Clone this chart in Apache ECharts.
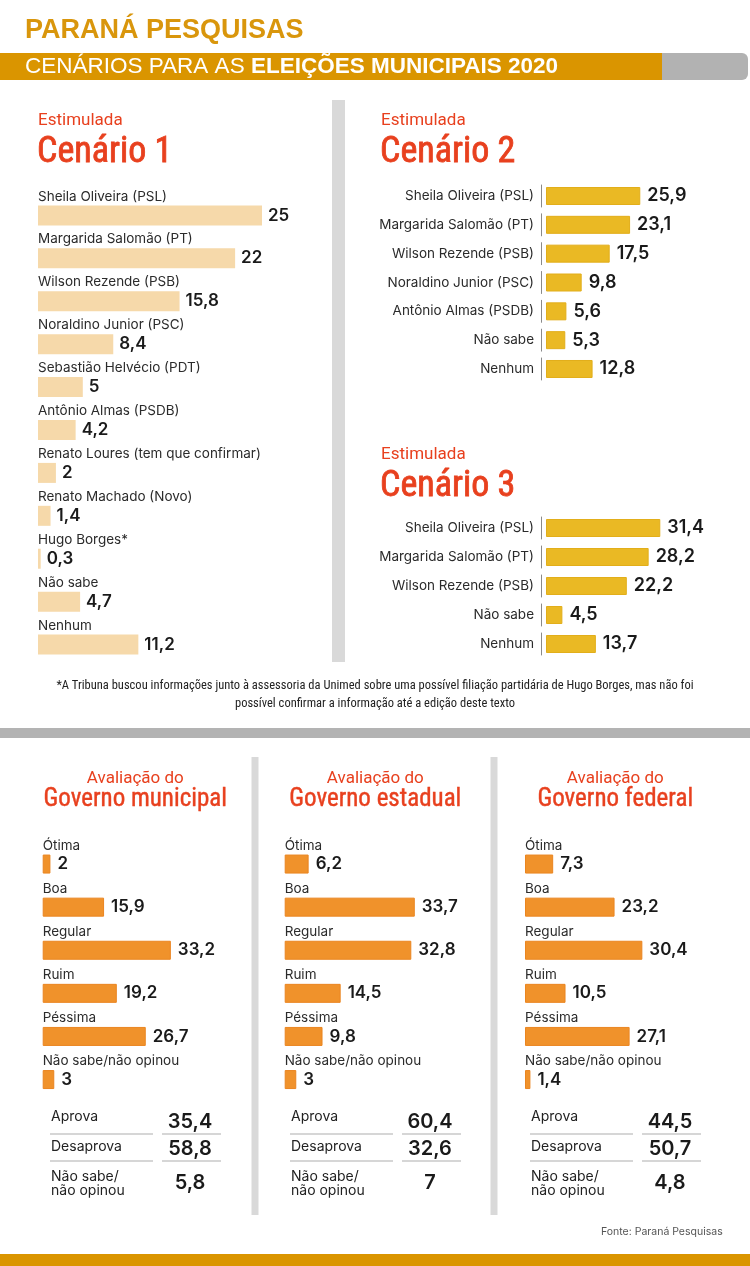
<!DOCTYPE html>
<html><head><meta charset="utf-8">
<script src="https://cdn.jsdelivr.net/npm/echarts@6/dist/echarts.min.js"></script>
<style>html,body{margin:0;padding:0;background:#fff}#c{width:750px;height:1266px}</style>
</head><body><div id="c"></div>
<script>
// ---------- DATA ----------
const c1Names = ['Sheila Oliveira (PSL)','Margarida Salomão (PT)','Wilson Rezende (PSB)','Noraldino Junior (PSC)','Sebastião Helvécio (PDT)','Antônio Almas (PSDB)','Renato Loures (tem que confirmar)','Renato Machado (Novo)','Hugo Borges*','Não sabe','Nenhum'];
const c1Values = [25, 22, 15.8, 8.4, 5, 4.2, 2, 1.4, 0.3, 4.7, 11.2];
const c2Names = ['Sheila Oliveira (PSL)','Margarida Salomão (PT)','Wilson Rezende (PSB)','Noraldino Junior (PSC)','Antônio Almas (PSDB)','Não sabe','Nenhum'];
const c2Values = [25.9, 23.1, 17.5, 9.8, 5.6, 5.3, 12.8];
const c3Names = ['Sheila Oliveira (PSL)','Margarida Salomão (PT)','Wilson Rezende (PSB)','Não sabe','Nenhum'];
const c3Values = [31.4, 28.2, 22.2, 4.5, 13.7];
const evalCategories = ['Ótima','Boa','Regular','Ruim','Péssima','Não sabe/não opinou'];
const evalMunicipal = [2, 15.9, 33.2, 19.2, 26.7, 3];
const evalEstadual = [6.2, 33.7, 32.8, 14.5, 9.8, 3];
const evalFederal = [7.3, 23.2, 30.4, 10.5, 27.1, 1.4];
const panelTitles = ['Governo municipal','Governo estadual','Governo federal'];
const approvalLabels = ['Aprova','Desaprova','Não sabe/\nnão opinou'];
const approvalMunicipal = [35.4, 58.8, 5.8];
const approvalEstadual = [60.4, 32.6, 7];
const approvalFederal = [44.5, 50.7, 4.8];
const footnoteLines = ['*A Tribuna buscou informações junto à assessoria da Unimed sobre uma possível filiação partidária de Hugo Borges, mas não foi','possível confirmar a informação até a edição deste texto'];

// ---------- STYLE ----------
const COND = '"Liberation Sans Narrow","Roboto Condensed","DejaVu Sans Condensed",Roboto,sans-serif';
const HEAD = '"Liberation Sans",Arial,sans-serif';
const LAB = 'Inter,"Noto Sans",sans-serif';
const RED = '#E8401E';
const fmt = v => String(v).replace('.', ',');

const grids = [], xAxes = [], yAxes = [], series = [];
function addChart(o) {
  const i = grids.length;
  grids.push({left: o.left, top: o.top, width: o.width, height: o.height});
  xAxes.push({gridIndex: i, type: 'value', min: 0, max: o.max, show: false});
  yAxes.push({gridIndex: i, type: 'category', data: o.names, inverse: true, offset: o.sep ? 5 : 0,
    axisLine: {show: !!o.sep, onZero: false, lineStyle: {color: '#8a8a8a', width: 1, type: o.sep || 'solid', dashOffset: o.sepOffset || 0}},
    axisTick: {show: false}, splitLine: {show: false},
    axisLabel: {show: !o.above, color: '#2b2b2b', fontSize: 13.5, fontFamily: LAB, margin: 7}});
  series.push({type: 'bar', xAxisIndex: i, yAxisIndex: i, data: o.values, barWidth: o.barWidth, barGap: '-100%', silent: true,
    itemStyle: {color: o.color, borderColor: o.border || o.color, borderWidth: o.border ? 1 : 0},
    label: {show: true, position: 'right', distance: o.dist, formatter: p => fmt(p.value), color: '#1a1a1a', fontFamily: LAB, fontSize: o.vsize, fontWeight: 600}});
  if (o.above) series.push({type: 'bar', xAxisIndex: i, yAxisIndex: i, data: o.values, barWidth: o.barWidth, barGap: '-100%', silent: true,
    itemStyle: {color: 'rgba(0,0,0,0)'},
    label: {show: true, position: [0, -9], align: 'left', verticalAlign: 'middle', formatter: '{b}', color: '#2b2b2b', fontFamily: LAB, fontSize: 13.5}});
}

addChart({names: c1Names, values: c1Values, left: 38, top: 194, width: 268.8, height: 472, max: 30, barWidth: 20, color: '#F6D9AA', above: true, dist: 6, vsize: 17});
addChart({names: c2Names, values: c2Values, left: 546, top: 181.6, width: 145.6, height: 201.8, max: 40, barWidth: 18, color: '#EAB924', border: '#E2AE1A', sep: [22, 6.83], sepOffset: 25.43, dist: 7, vsize: 18});
addChart({names: c3Names, values: c3Values, left: 546, top: 513.5, width: 145.6, height: 145, max: 40, barWidth: 18, color: '#EAB924', border: '#E2AE1A', sep: [22, 7], sepOffset: 25.5, dist: 7, vsize: 18});
const evalSets = [evalMunicipal, evalEstadual, evalFederal];
const panelLefts = [42.7, 284.7, 525];
evalSets.forEach((vals, k) => addChart({names: evalCategories, values: vals, left: panelLefts[k], top: 842.5, width: 154.4, height: 258.6, max: 40, barWidth: 19, color: '#F0922B', border: '#EA8520', above: true, dist: 7, vsize: 17}));

// ---------- GRAPHIC ----------
const G = [];
function txt(x, y, text, size, color, family, weight, align, extra) {
  G.push({type: 'text', x: x, y: y, silent: true, style: Object.assign({text: text, fill: color, fontSize: size, fontFamily: family, fontWeight: weight || 'normal', align: align || 'left', verticalAlign: 'middle'}, extra || {})});
}
function rect(x, y, w, h, fill, r) {
  G.push({type: 'rect', silent: true, shape: {x: x, y: y, width: w, height: h, r: r || 0}, style: {fill: fill}});
}
function line(x1, y1, x2, y2, color, w) {
  G.push({type: 'line', silent: true, shape: {x1: x1, y1: y1, x2: x2, y2: y2}, style: {stroke: color, lineWidth: w}});
}

// header
txt(25, 31, 'PARANÁ PESQUISAS', 27, '#D9960C', HEAD, 'bold');
rect(0, 53, 662, 27, '#DA9500');
rect(662, 53, 86, 27, '#B2B2B2', [0, 6, 6, 0]);
G.push({type: 'text', x: 25, y: 67, silent: true, style: {text: '{a|CENÁRIOS PARA AS }{b|ELEIÇÕES MUNICIPAIS 2020}', verticalAlign: 'middle',
  rich: {a: {fill: '#fff', fontSize: 22.5, fontFamily: HEAD}, b: {fill: '#fff', fontSize: 22.5, fontFamily: HEAD, fontWeight: 'bold'}}}});

// dividers
rect(332, 100, 13, 562, '#D9D9D9');
rect(251.5, 757, 7, 458, '#D9D9D9');
rect(490.5, 757, 7, 458, '#D9D9D9');
rect(0, 728, 750, 10, '#B3B3B3');
rect(0, 1254, 750, 12, '#DA9500');

// scenario titles
[[38, 121, 153, 'Cenário 1'], [381, 121, 153, 'Cenário 2'], [381, 455, 487, 'Cenário 3']].forEach(t => {
  txt(t[0], t[1], 'Estimulada', 17, RED, 'Roboto,sans-serif');
  txt(t[0] - 1, t[2], t[3], 36, RED, COND, 'normal', 'left', {stroke: RED, lineWidth: 0.8});
});

// footnote
footnoteLines.forEach((l, k) => txt(375, 686 + k * 18, l, 12.5, '#222', COND, 'normal', 'center'));

// evaluation panels
const approvals = [approvalMunicipal, approvalEstadual, approvalFederal];
panelTitles.forEach((t, k) => {
  const cx = 135.3 + 240 * k, dx = 240 * k;
  txt(cx, 779, 'Avaliação do', 17, RED, 'Roboto,sans-serif', 'normal', 'center');
  txt(cx, 800, t, 25, RED, COND, 'normal', 'center', {stroke: RED, lineWidth: 0.4});
  const ys = [1117, 1147, 1183.5], vy = [1122, 1149, 1183];
  approvalLabels.forEach((lab, r) => {
    txt(51 + dx, ys[r], lab, 14, '#222', LAB, 'normal', 'left', {lineHeight: 14});
    txt(190 + dx, vy[r], fmt(approvals[k][r]), 20, '#1a1a1a', LAB, 600, 'center');
  });
  [1134, 1161].forEach(ly => {
    line(50 + dx, ly, 153 + dx, ly, '#C9C9C9', 1.5);
    line(162 + dx, ly, 221 + dx, ly, '#C9C9C9', 1.5);
  });
});
txt(722.7, 1232, 'Fonte: Paraná Pesquisas', 10.5, '#555', LAB, 'normal', 'right');

const chart = echarts.init(document.getElementById('c'));
chart.setOption({
  animation: false,
  backgroundColor: '#fff',
  grid: grids, xAxis: xAxes, yAxis: yAxes, series: series,
  graphic: {elements: G}
});
</script></body></html>
